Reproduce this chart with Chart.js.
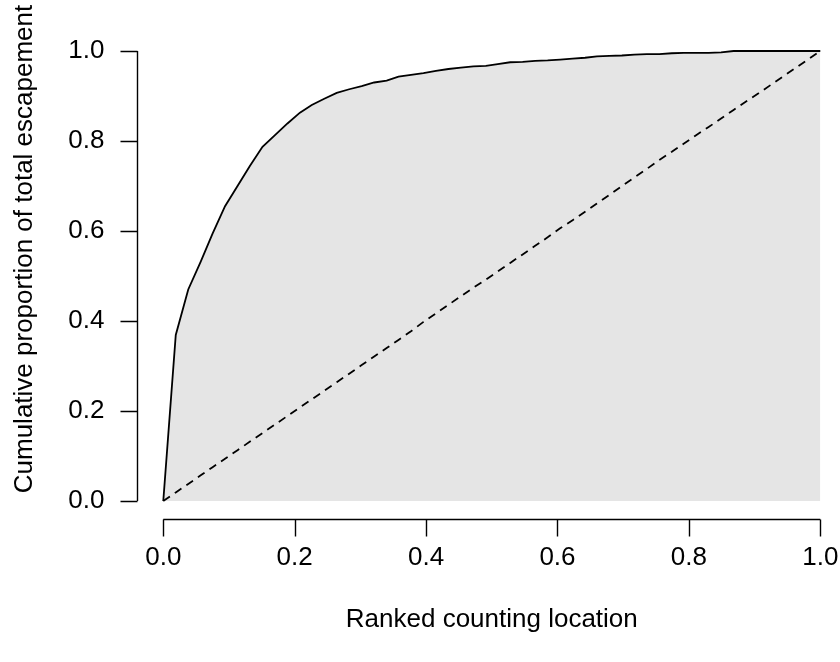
<!DOCTYPE html>
<html>
<head>
<meta charset="utf-8">
<script src="https://cdn.jsdelivr.net/npm/chart.js@4"></script>
<style>
  body { margin: 0; background: #fff; }
  canvas { display: block; }
</style>
</head>
<body>
<canvas id="grafico" width="840" height="662"></canvas>
<script>
// posição relativa (ranking) dos locais de contagem
const rankedLocation = [
  0.000, 0.019, 0.038, 0.057, 0.075, 0.094, 0.113, 0.132, 0.151, 0.170,
  0.189, 0.208, 0.226, 0.245, 0.264, 0.283, 0.302, 0.321, 0.340, 0.358,
  0.377, 0.396, 0.415, 0.434, 0.453, 0.472, 0.491, 0.509, 0.528, 0.547,
  0.566, 0.585, 0.604, 0.623, 0.642, 0.660, 0.679, 0.698, 0.717, 0.736,
  0.755, 0.774, 0.792, 0.811, 0.830, 0.849, 0.868, 0.887, 0.906, 0.925,
  0.943, 0.962, 0.981, 1.000
];
// proporção acumulada do escapamento total
const cumEscapement = [
  0.000, 0.369, 0.470, 0.532, 0.594, 0.655, 0.700, 0.745, 0.787, 0.813,
  0.839, 0.863, 0.880, 0.894, 0.907, 0.915, 0.922, 0.930, 0.934, 0.943,
  0.947, 0.951, 0.956, 0.960, 0.963, 0.966, 0.967, 0.971, 0.975, 0.976,
  0.978, 0.979, 0.981, 0.983, 0.985, 0.988, 0.989, 0.990, 0.992, 0.993,
  0.993, 0.995, 0.996, 0.996, 0.996, 0.997, 1.000, 1.000, 1.000, 1.000,
  1.000, 1.000, 1.000, 1.000
];
// linha de referência (tracejada)
const cumReference = [
  0.000, 0.019, 0.038, 0.057, 0.075, 0.094, 0.113, 0.132, 0.151, 0.170,
  0.189, 0.208, 0.226, 0.245, 0.264, 0.283, 0.302, 0.321, 0.340, 0.358,
  0.377, 0.398, 0.417, 0.436, 0.455, 0.474, 0.492, 0.510, 0.529, 0.548,
  0.567, 0.586, 0.606, 0.624, 0.643, 0.661, 0.680, 0.700, 0.719, 0.738,
  0.758, 0.776, 0.794, 0.813, 0.831, 0.850, 0.869, 0.888, 0.906, 0.925,
  0.943, 0.962, 0.981, 1.000
];
const xTicks = [0, 0.2, 0.4, 0.6, 0.8, 1.0];
const yTicks = [0, 0.2, 0.4, 0.6, 0.8, 1.0];
const xTitle = "Ranked counting location";
const yTitle = "Cumulative proportion of total escapement";

const FONTE = '26px "Liberation Sans", Arial, Helvetica, sans-serif';
const TICK = 17;

// eixos no estilo do R (linha só de 0 a 1, marcas para fora)
const eixosR = {
  id: 'eixosR',
  afterDraw(chart) {
    const ctx = chart.ctx;
    const xs = chart.scales.x, ys = chart.scales.y;
    const area = chart.chartArea;
    ctx.save();
    ctx.strokeStyle = '#000';
    ctx.fillStyle = '#000';
    ctx.lineWidth = 1.4;
    ctx.font = FONTE;

    // eixo y
    const ax = Math.round(area.left) + 0.5;
    ctx.beginPath();
    ctx.moveTo(ax, ys.getPixelForValue(yTicks[0]));
    ctx.lineTo(ax, ys.getPixelForValue(yTicks[yTicks.length - 1]));
    yTicks.forEach(v => {
      const p = Math.round(ys.getPixelForValue(v)) + 0.5;
      ctx.moveTo(ax, p);
      ctx.lineTo(ax - TICK, p);
    });
    ctx.stroke();
    ctx.textAlign = 'right';
    ctx.textBaseline = 'middle';
    yTicks.forEach(v => ctx.fillText(v.toFixed(1), ax - 33, ys.getPixelForValue(v)));

    // eixo x
    const ay = Math.round(area.bottom) + 0.5;
    ctx.beginPath();
    ctx.moveTo(xs.getPixelForValue(xTicks[0]), ay);
    ctx.lineTo(xs.getPixelForValue(xTicks[xTicks.length - 1]), ay);
    xTicks.forEach(v => {
      const p = Math.round(xs.getPixelForValue(v)) + 0.5;
      ctx.moveTo(p, ay);
      ctx.lineTo(p, ay + TICK);
    });
    ctx.stroke();
    ctx.textAlign = 'center';
    xTicks.forEach(v => ctx.fillText(v.toFixed(1), xs.getPixelForValue(v), ay + 38));

    // títulos
    ctx.fillText(xTitle, (xs.getPixelForValue(0) + xs.getPixelForValue(1)) / 2, 620);
    ctx.translate(25, 249);
    ctx.rotate(-Math.PI / 2);
    ctx.fillText(yTitle, 0, 0);
    ctx.restore();
  }
};

new Chart(document.getElementById('grafico'), {
  type: 'line',
  data: {
    datasets: [
      {
        data: rankedLocation.map((x, i) => ({ x: x, y: cumEscapement[i] })),
        borderColor: '#000',
        borderWidth: 1.8,
        backgroundColor: '#e5e5e5',
        fill: 'origin',
        pointRadius: 0,
        tension: 0,
        order: 2
      },
      {
        data: rankedLocation.map((x, i) => ({ x: x, y: cumReference[i] })),
        borderColor: '#000',
        borderWidth: 1.8,
        borderDash: [8, 6],
        fill: false,
        pointRadius: 0,
        tension: 0,
        order: 1
      }
    ]
  },
  options: {
    responsive: false,
    animation: false,
    layout: { padding: { left: 137, top: 33, right: 0, bottom: 143 } },
    scales: {
      x: { type: 'linear', min: -0.04, max: 1.03, display: false },
      y: { type: 'linear', min: -0.04, max: 1.04, display: false }
    },
    plugins: {
      legend: { display: false },
      tooltip: { enabled: false }
    }
  },
  plugins: [eixosR]
});
</script>
</body>
</html>
